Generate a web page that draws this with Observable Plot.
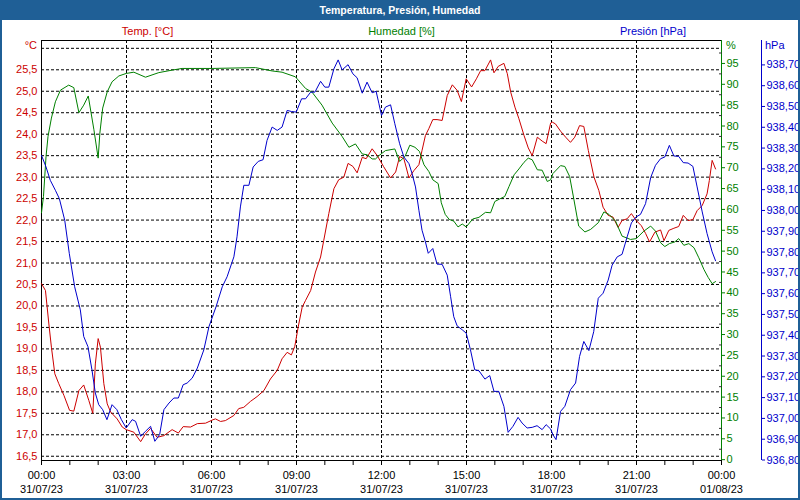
<!DOCTYPE html>
<html><head><meta charset="utf-8">
<script src="https://cdn.jsdelivr.net/npm/d3@7"></script>
<script src="https://cdn.jsdelivr.net/npm/@observablehq/plot@0.6"></script>
<style>
body{margin:0;background:#fff;}
#chart{position:relative;width:800px;height:500px;overflow:hidden;font-family:"Liberation Sans",Arial,sans-serif;background:#fff;}
#chart svg{position:absolute;left:0;top:0;}
.lbl{position:absolute;font-size:11px;line-height:13px;white-space:nowrap;}
#title{position:absolute;left:0;top:0;width:800px;height:20px;background:#1f5f96;color:#fff;font-weight:bold;font-size:10.5px;line-height:20px;text-align:center;}
#border{position:absolute;left:0;top:0;width:800px;height:500px;box-sizing:border-box;border:2px solid #1f5f96;pointer-events:none;}
</style></head>
<body><div id="chart"></div>
<script>
// ---- data (time in hours since 00:00 31/07/23) ----
const tempTime = [0,0.14,0.26,0.35,0.47,0.61,0.79,0.99,1.14,1.32,1.49,1.67,1.81,1.9,2.0,2.08,2.2,2.32,2.44,2.67,2.85,2.99,3.26,3.5,3.67,3.85,4.08,4.32,4.61,4.83,5.0,5.26,5.5,5.79,6.05,6.14,6.32,6.49,6.79,6.96,7.14,7.38,7.61,7.85,8.08,8.32,8.49,8.67,8.82,8.94,9.06,9.2,9.32,9.5,9.67,9.85,9.96,10.14,10.32,10.49,10.67,10.82,10.99,11.14,11.32,11.46,11.67,11.85,12.07,12.32,12.5,12.64,12.79,12.97,13.14,13.32,13.43,13.55,13.67,13.81,13.96,14.14,14.32,14.5,14.67,14.82,14.99,15.18,15.35,15.5,15.65,15.85,15.97,16.12,16.32,16.44,16.56,16.71,16.85,17.03,17.18,17.32,17.5,17.67,17.81,17.97,18.03,18.14,18.32,18.5,18.67,18.82,18.99,19.14,19.3,19.5,19.67,19.82,20.0,20.17,20.35,20.49,20.67,20.82,20.99,21.17,21.32,21.46,21.65,21.85,21.97,22.14,22.32,22.49,22.65,22.82,22.99,23.14,23.32,23.49,23.57,23.67,23.79];
const tempVal = [20.52,20.36,19.58,19.04,18.42,18.19,17.92,17.57,17.55,18.03,18.16,17.80,17.50,18.65,19.24,19.04,18.19,17.72,17.53,17.37,17.18,17.12,17.06,16.84,17.02,17.15,16.94,16.98,17.12,17.04,17.19,17.18,17.26,17.27,17.35,17.37,17.31,17.33,17.45,17.61,17.64,17.78,17.89,18.03,18.30,18.50,18.77,18.92,18.86,19.06,19.51,19.97,20.13,20.36,20.79,21.14,21.52,22.15,22.73,22.94,23.00,23.32,23.25,23.10,23.46,23.43,23.66,23.50,23.25,22.98,23.12,23.48,23.43,22.98,23.15,23.29,23.62,23.97,24.13,24.34,24.34,24.32,24.90,25.15,25.02,24.76,25.29,25.10,25.29,25.48,25.48,25.73,25.43,25.58,25.65,25.41,24.98,24.63,24.36,23.97,23.68,23.50,23.93,23.84,23.78,24.26,24.28,24.24,24.07,23.93,23.81,23.93,24.20,24.18,23.62,23.00,22.69,22.30,22.11,22.07,21.83,21.99,22.03,22.15,21.99,21.87,21.69,21.49,21.72,21.77,21.52,21.76,21.81,21.85,22.11,21.99,22.01,22.22,22.34,22.61,22.92,23.39,23.19];

const humTime = [0,0.07,0.16,0.23,0.35,0.49,0.67,0.96,1.14,1.32,1.49,1.65,1.85,2.0,2.06,2.16,2.32,2.49,2.73,2.99,3.26,3.67,4.14,4.61,4.96,6.02,7.55,8.14,8.49,8.96,9.32,9.55,9.9,10.26,10.61,10.85,11.08,11.32,11.49,11.67,11.79,11.91,12.14,12.47,12.64,12.83,13.0,13.18,13.34,13.5,13.67,13.81,14.0,14.11,14.25,14.39,14.55,14.7,14.85,14.99,15.22,15.44,15.67,15.85,16.0,16.17,16.35,16.5,16.68,16.85,17.03,17.18,17.32,17.5,17.67,17.85,17.97,18.05,18.32,18.47,18.64,18.79,18.96,19.18,19.38,19.65,19.85,20.03,20.26,20.49,20.79,20.99,21.26,21.5,21.67,21.85,22.0,22.16,22.35,22.49,22.67,22.85,23.03,23.2,23.38,23.53,23.67,23.79];
const humVal = [59.2,63.1,72.7,77.5,81.9,85.8,88.6,89.8,89.2,83.2,85.0,87.2,79.1,72.3,78.3,84.3,88.2,90.6,92.0,92.6,92.9,91.7,92.8,93.4,93.8,93.8,94.0,93.2,92.9,91.8,89.0,88.1,85.0,80.7,77.5,74.9,75.7,73.3,73.1,72.1,72.1,72.9,74.1,74.5,71.5,72.7,75.4,74.9,73.9,70.7,69.1,67.1,66.2,61.6,58.8,57.6,57.2,55.8,56.5,55.8,57.7,58.1,59.3,59.2,61.9,62.5,63.1,65.5,68.3,69.7,71.3,72.3,71.9,69.5,69.4,66.7,67.1,68.6,70.5,70.3,67.9,62.4,56.0,54.6,55.2,56.8,59.4,58.8,57.2,53.6,52.8,53.0,54.8,56.0,54.8,52.0,51.1,51.8,52.2,53.0,51.4,51.8,50.8,48.4,45.6,43.7,42.2,42.7];

const presTime = [0,0.16,0.31,0.49,0.63,0.82,0.98,1.17,1.37,1.49,1.64,1.78,1.9,2.02,2.16,2.31,2.49,2.66,2.82,2.99,3.2,3.32,3.5,3.67,3.85,4.0,4.17,4.32,4.5,4.67,4.83,5.0,5.14,5.32,5.5,5.73,5.91,6.16,6.38,6.55,6.79,6.9,7.02,7.14,7.32,7.47,7.65,7.82,7.96,8.14,8.32,8.49,8.67,8.82,8.99,9.18,9.32,9.5,9.65,9.85,10.0,10.14,10.32,10.47,10.61,10.82,10.99,11.14,11.32,11.49,11.67,11.81,11.91,12.0,12.14,12.32,12.47,12.64,12.79,12.97,13.08,13.2,13.32,13.43,13.55,13.65,13.81,13.96,14.14,14.32,14.44,14.55,14.67,14.85,14.99,15.14,15.29,15.44,15.65,15.82,15.97,16.14,16.32,16.47,16.64,16.82,16.96,17.14,17.32,17.49,17.67,17.81,17.97,18.05,18.16,18.32,18.47,18.67,18.85,18.99,19.14,19.32,19.49,19.65,19.82,20.0,20.14,20.32,20.49,20.67,20.82,20.99,21.14,21.32,21.5,21.67,21.85,22.0,22.16,22.32,22.49,22.65,22.82,22.99,23.14,23.32,23.49,23.67,23.79];
const presVal = [938.265,938.209,938.145,938.097,938.057,937.953,937.794,937.633,937.522,937.394,937.345,937.234,937.122,937.066,937.042,936.994,937.066,937.042,936.994,936.954,936.994,936.986,936.914,936.938,936.962,936.890,936.922,937.042,937.074,937.098,937.098,937.162,937.170,937.194,937.242,937.330,937.441,937.537,937.633,937.681,937.777,937.873,938.017,938.121,938.121,938.209,938.236,938.244,938.337,938.401,938.385,938.401,938.481,938.476,938.473,938.537,938.537,938.569,938.569,938.621,938.593,938.593,938.681,938.724,938.676,938.701,938.657,938.638,938.564,938.617,938.566,938.573,938.513,938.457,938.497,938.508,938.417,938.321,938.257,938.225,938.177,938.113,938.001,937.905,937.849,937.794,937.817,937.742,937.741,937.689,937.585,937.489,937.445,937.426,937.410,937.330,937.234,937.229,937.189,937.206,937.130,937.130,937.058,936.933,936.962,937.005,936.978,936.954,936.957,936.965,936.946,936.970,936.949,936.922,936.898,937.034,937.058,937.138,937.170,937.298,937.370,937.326,937.417,937.578,937.602,937.665,937.737,937.777,937.789,937.873,937.940,937.969,937.981,938.033,938.158,938.217,938.249,938.257,938.313,938.262,938.260,938.230,938.228,938.212,938.113,937.993,937.889,937.801,937.758];

// ---- ticks & labels ----
const tempTicks = [16.5,17.0,17.5,18.0,18.5,19.0,19.5,20.0,20.5,21.0,21.5,22.0,22.5,23.0,23.5,24.0,24.5,25.0,25.5];
const tempGrid = [16.5,17.0,17.5,18.0,18.5,19.0,19.5,20.0,20.5,21.0,21.5,22.0,22.5,23.0,23.5,24.0,24.5,25.0,25.5,26.0];
const humTicks = [0,5,10,15,20,25,30,35,40,45,50,55,60,65,70,75,80,85,90,95];
const humMinor = [2.5,7.5,12.5,17.5,22.5,27.5,32.5,37.5,42.5,47.5,52.5,57.5,62.5,67.5,72.5,77.5,82.5,87.5,92.5,97.5];
const presTicks = [936.8,936.9,937.0,937.1,937.2,937.3,937.4,937.5,937.6,937.7,937.8,937.9,938.0,938.1,938.2,938.3,938.4,938.5,938.6,938.7];
const hourTicks = [0,1,2,3,4,5,6,7,8,9,10,11,12,13,14,15,16,17,18,19,20,21,22,23,24];
const gridHours = [3,6,9,12,15,18,21];
const labelHours = [0,3,6,9,12,15,18,21,24];
const labelTimes = ["00:00","03:00","06:00","09:00","12:00","15:00","18:00","21:00","00:00"];
const labelDates = ["31/07/23","31/07/23","31/07/23","31/07/23","31/07/23","31/07/23","31/07/23","31/07/23","01/08/23"];

const titleText = "Temperatura, Presión, Humedad";
const seriesNames = ["Temp. [°C]", "Humedad [%]", "Presión [hPa]"];
const unitNames = ["°C", "%", "hPa"];

const RED = "#cc0000", GREEN = "#008000", BLUE = "#0000cc";

const zip = (t, v) => t.map((h, i) => ({h, v: v[i]}));
const tempData = zip(tempTime, tempVal);
const humData = zip(humTime, humVal);
const presData = zip(presTime, presVal);

const comma = (d, n) => d.toFixed(n).replace(".", ",");

const base = {
  width: 800, height: 500,
  marginTop: 40, marginBottom: 40, marginLeft: 41, marginRight: 79,
  style: {background: "transparent", fontFamily: "'Liberation Sans', Arial, sans-serif", fontSize: "11px", overflow: "visible"}
};

const chart = document.getElementById("chart");

const pTemp = Plot.plot({
  ...base,
  x: {domain: [0, 24], label: null},
  y: {domain: [16.401, 26.182], label: null},
  marks: [
    Plot.gridY(tempGrid, {stroke: "black", strokeOpacity: 1, strokeDasharray: "3,2"}),
    Plot.gridX(gridHours, {stroke: "black", strokeOpacity: 1, strokeDasharray: "3,2"}),
    Plot.frame({stroke: "black"}),
    Plot.axisY(tempTicks, {anchor: "left", tickSize: 0, tickPadding: 4, color: RED, label: null, tickFormat: d => comma(d, 1)}),
    Plot.axisX(hourTicks, {anchor: "bottom", tickSize: 5, tickPadding: 4, color: "black", label: null, lineHeight: 1.27,
      tickFormat: d => { const i = labelHours.indexOf(d); return i < 0 ? "" : labelTimes[i] + "\n" + labelDates[i]; }}),
    Plot.line(tempData, {x: "h", y: "v", stroke: RED, strokeWidth: 1})
  ]
});

const pHum = Plot.plot({
  ...base,
  x: {domain: [0, 24], axis: null},
  y: {domain: [-0.2, 100.5], label: null},
  marks: [
    Plot.ruleX([24], {stroke: GREEN}),
    Plot.axisY(humMinor, {anchor: "right", tickSize: -3, tickPadding: 0, color: "#333", label: null, tickFormat: () => ""}),
    Plot.axisY(humTicks, {anchor: "right", tickSize: 3, tickPadding: 2, color: GREEN, label: null}),
    Plot.line(humData, {x: "h", y: "v", stroke: GREEN, strokeWidth: 1})
  ]
});

const pPres = Plot.plot({
  ...base,
  x: {domain: [0, 24], axis: null},
  y: {domain: [936.7976, 938.8173], label: null},
  marks: [
    Plot.ruleX([24], {stroke: BLUE, dx: 40}),
    Plot.axisY(presTicks, {anchor: "right", tickSize: 3, tickPadding: 2, dx: 40, color: BLUE, label: null, tickFormat: d => comma(d, 2)}),
    Plot.line(presData, {x: "h", y: "v", stroke: BLUE, strokeWidth: 1})
  ]
});

chart.append(pTemp, pHum, pPres);

function label(text, left, top, color, align) {
  const d = document.createElement("div");
  d.className = "lbl";
  d.textContent = text;
  d.style.color = color;
  d.style.top = top + "px";
  if (align === "center") { d.style.left = left + "px"; d.style.transform = "translateX(-50%)"; }
  else if (align === "right") { d.style.right = (800 - left) + "px"; }
  else { d.style.left = left + "px"; }
  chart.append(d);
}
label(seriesNames[0], 147.5, 25, RED, "center");
label(seriesNames[1], 401.5, 25, GREEN, "center");
label(seriesNames[2], 653, 25, BLUE, "center");
label(unitNames[0], 37, 39, RED, "right");
label(unitNames[1], 726, 39, GREEN, "left");
label(unitNames[2], 765, 39, BLUE, "left");

const t = document.createElement("div");
t.id = "title"; t.textContent = titleText;
chart.append(t);
const b = document.createElement("div");
b.id = "border";
chart.append(b);
</script></body></html>
